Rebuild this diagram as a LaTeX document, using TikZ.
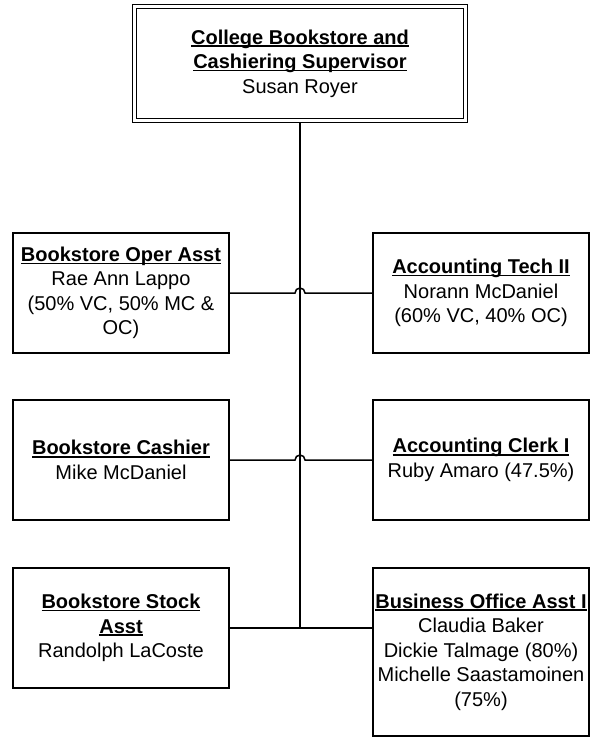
\documentclass[tikz,border=0pt]{standalone}
\usepackage{fontspec}
\setmainfont{Liberation Sans}
\usetikzlibrary{calc}
\newsavebox\ttlbox
\newcommand{\ttl}[1]{\sbox\ttlbox{\textbf{#1}}\usebox\ttlbox\llap{\rule[-2.6pt]{\wd\ttlbox}{1.4pt}}}
\begin{document}
\begin{tikzpicture}[x=1pt,y=-1pt,
  box/.style={draw, line width=1.8pt, minimum width=216pt, minimum height=120pt,
    inner sep=0pt, align=center, font=\fontsize{20}{24.5}\selectfont},
  topbox/.style={draw, line width=1.7pt, double=white, double distance=2.5pt,
    minimum width=331pt, minimum height=114pt, inner sep=0pt, outer sep=3pt,
    align=center, font=\fontsize{20}{24.5}\selectfont},
  conn/.style={line width=1.5pt}]
\useasboundingbox (0,0) rectangle (613,738);

\node[topbox] (sup) at (300,63.5) {\ttl{College Bookstore and}\\\ttl{Cashiering Supervisor}\\Susan Royer};

\node[box] (opa) at (121,293) {\ttl{Bookstore Oper Asst}\\Rae Ann Lappo\\(50\% VC, 50\% MC \&\\OC)};
\node[box] (tech) at (481,293) {\ttl{Accounting Tech II}\\Norann McDaniel\\(60\% VC, 40\% OC)};

\node[box] (cash) at (121,460) {\ttl{Bookstore Cashier}\\Mike McDaniel};
\node[box] (clerk) at (481,460) {\ttl{Accounting Clerk I}\\Ruby Amaro (47.5\%)};

\node[box] (stock) at (121,628) {\ttl{Bookstore Stock}\\\ttl{Asst}\\Randolph LaCoste};
\node[box, minimum height=168pt] (boa) at (481,652) {\ttl{Business Office Asst I}\\Claudia Baker\\Dickie Talmage (80\%)\\Michelle Saastamoinen\\(75\%)};

\coordinate (j3) at (stock.east -| sup.south);
\draw[conn] (sup.south) -- (j3);
\draw[conn] (opa.east) -- ($(opa.east -| sup.south)-(5,0)$) arc[start angle=180, end angle=0, radius=5pt] -- (tech.west);
\draw[conn] (cash.east) -- ($(cash.east -| sup.south)-(5,0)$) arc[start angle=180, end angle=0, radius=5pt] -- (clerk.west);
\draw[conn] (stock.east) -- (stock.east -| boa.west);
\end{tikzpicture}
\end{document}
